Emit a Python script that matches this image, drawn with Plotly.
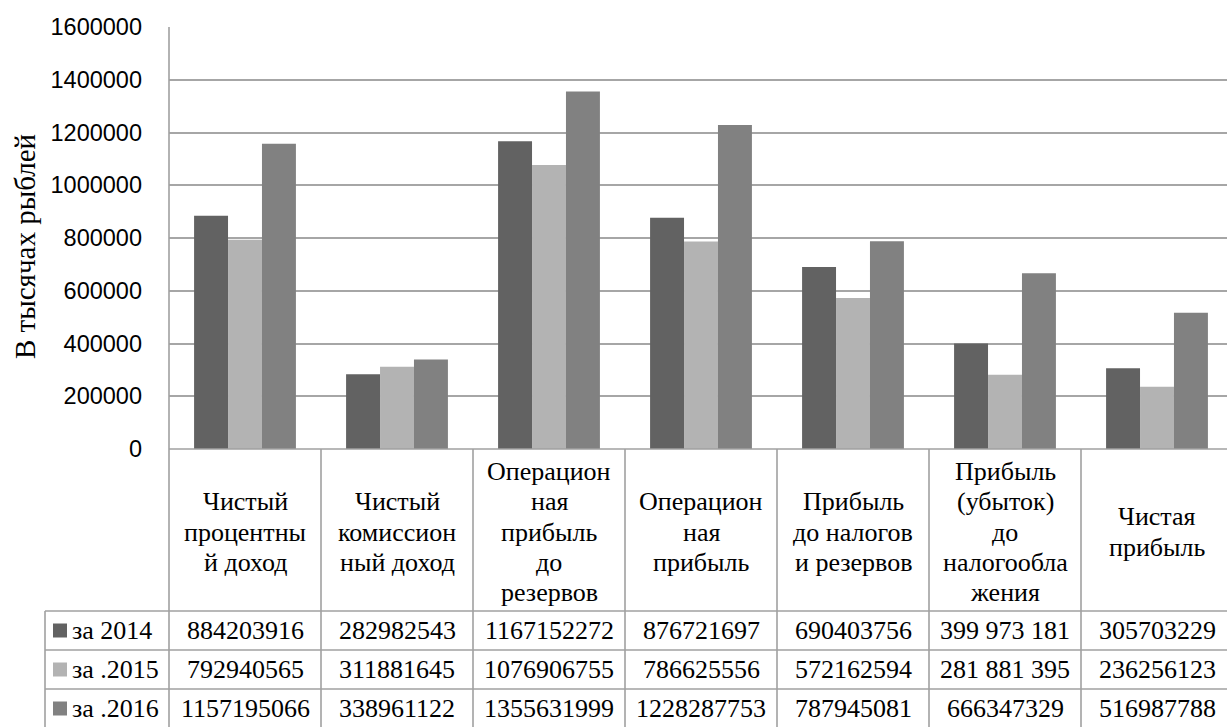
import plotly.graph_objects as go

# Indicators (header row of the data table, line breaks as typeset)
categories = [
    "Чистый\nпроцентны\nй доход",
    "Чистый\nкомиссион\nный доход",
    "Операцион\nная\nприбыль\nдо\nрезервов",
    "Операцион\nная\nприбыль",
    "Прибыль\nдо налогов\nи резервов",
    "Прибыль\n(убыток)\nдо\nналогообла\nжения",
    "Чистая\nприбыль",
]

series_names = ["за 2014", "за .2015", "за .2016"]

values_2014 = ["884203916", "282982543", "1167152272", "876721697",
               "690403756", "399 973 181", "305703229"]
values_2015 = ["792940565", "311881645", "1076906755", "786625556",
               "572162594", "281 881 395", "236256123"]
values_2016 = ["1157195066", "338961122", "1355631999", "1228287753",
               "787945081", "666347329", "516987788"]

series_values = [values_2014, values_2015, values_2016]
series_colors = ["#626262", "#b3b3b3", "#818181"]

y_ticks = [0, 200000, 400000, 600000, 800000, 1000000, 1200000, 1400000, 1600000]
y_title = "В тысячах рыблей"

# ---- geometry (pixels) ----
W, H = 1227, 727
PL, PR, PT, PB = 169, 1227, 27, 449      # plot area
CAT_W = 152                              # width of one category column
X_MIN = -0.5
X_MAX = X_MIN + (PR - PL) / CAT_W
HEADER_BOTTOM = 611
ROW_H = 39
LEGEND_LEFT = 45
LINE_COLOR = "#a0a0a0"
SERIF = '"Liberation Serif", "Times New Roman", "DejaVu Serif", serif'
SANS = '"Liberation Sans", Arial, sans-serif'


def px_x(px):
    return (px - PL) / (PR - PL)


def px_y(py):
    return (PB - py) / (PB - PT)


def cat_px(i):
    return PL + (i - X_MIN) * CAT_W


def to_number(s):
    return int(s.replace(" ", ""))


fig = go.Figure()
for name, vals, color in zip(series_names, series_values, series_colors):
    fig.add_trace(go.Bar(
        x=list(range(len(categories))),
        y=[to_number(v) / 1000 for v in vals],
        name=name,
        marker=dict(color=color, line=dict(width=0)),
        showlegend=False,
    ))

shapes = []
annotations = []

def hline(py, x0, x1):
    shapes.append(dict(type="line", xref="paper", yref="paper",
                       x0=px_x(x0), x1=px_x(x1), y0=px_y(py), y1=px_y(py),
                       line=dict(color=LINE_COLOR, width=1.6)))

def vline(px, y0, y1):
    shapes.append(dict(type="line", xref="paper", yref="paper",
                       x0=px_x(px), x1=px_x(px), y0=px_y(y0), y1=px_y(y1),
                       line=dict(color=LINE_COLOR, width=1.6)))

# table grid
n_rows = len(series_names)
table_bottom = HEADER_BOTTOM + ROW_H * n_rows + 2
vline(PL, PT, table_bottom)
for i in range(1, len(categories) + 1):
    vline(cat_px(i - 0.5), PB, table_bottom)
vline(LEGEND_LEFT, HEADER_BOTTOM, table_bottom)
hline(PB, PL, W + 10)
for r in range(n_rows + 1):
    hline(HEADER_BOTTOM + r * ROW_H, LEGEND_LEFT, W + 10)

# header labels
LINE_STEP = 30.3
HEADER_MID = 532
for i, label in enumerate(categories):
    lines = label.split("\n")
    n = len(lines)
    for k, line in enumerate(lines):
        py = HEADER_MID + (k - (n - 1) / 2) * LINE_STEP
        annotations.append(dict(
            x=i, xref="x", y=px_y(py), yref="paper", text=line,
            showarrow=False, xanchor="center", yanchor="middle",
            font=dict(family=SERIF, size=26, color="#000000")))

# data rows
for r, (name, vals, color) in enumerate(zip(series_names, series_values, series_colors)):
    row_mid = HEADER_BOTTOM + r * ROW_H + ROW_H / 2
    for i, v in enumerate(vals):
        annotations.append(dict(
            x=i, xref="x", y=px_y(row_mid), yref="paper", text=v,
            showarrow=False, xanchor="center", yanchor="middle",
            font=dict(family=SERIF, size=26, color="#000000")))
    # legend key
    shapes.append(dict(type="rect", xref="paper", yref="paper",
                       x0=px_x(53), x1=px_x(67),
                       y0=px_y(row_mid - 7), y1=px_y(row_mid + 7),
                       fillcolor=color, line=dict(width=0)))
    annotations.append(dict(
        x=px_x(70), xref="paper", y=px_y(row_mid), yref="paper", text=name,
        showarrow=False, xanchor="left", yanchor="middle",
        font=dict(family=SERIF, size=26, color="#000000")))

# axis title
annotations.append(dict(
    x=px_x(25), xref="paper", y=px_y(247), yref="paper", text=y_title,
    showarrow=False, textangle=-90, xanchor="center", yanchor="middle",
    font=dict(family=SERIF, size=29, color="#000000")))

fig.update_layout(
    width=W, height=H,
    margin=dict(l=PL, r=W - PR, t=PT, b=H - PB, pad=0),
    paper_bgcolor="white", plot_bgcolor="white",
    barmode="group", bargap=0.33, bargroupgap=0,
    showlegend=False,
    shapes=shapes, annotations=annotations,
    xaxis=dict(range=[X_MIN, X_MAX], showticklabels=False, showgrid=False,
               zeroline=False, showline=False, ticks=""),
    yaxis=dict(range=[0, 1600000], tickvals=y_ticks,
               ticktext=[str(t) for t in y_ticks],
               showgrid=True, gridcolor="#a6a6a6", gridwidth=1.5,
               zeroline=False, showline=False, ticks="",
               ticklabelstandoff=26,
               tickfont=dict(family=SANS, size=23.5, color="#000000")),
)

fig.write_html("out.html")
